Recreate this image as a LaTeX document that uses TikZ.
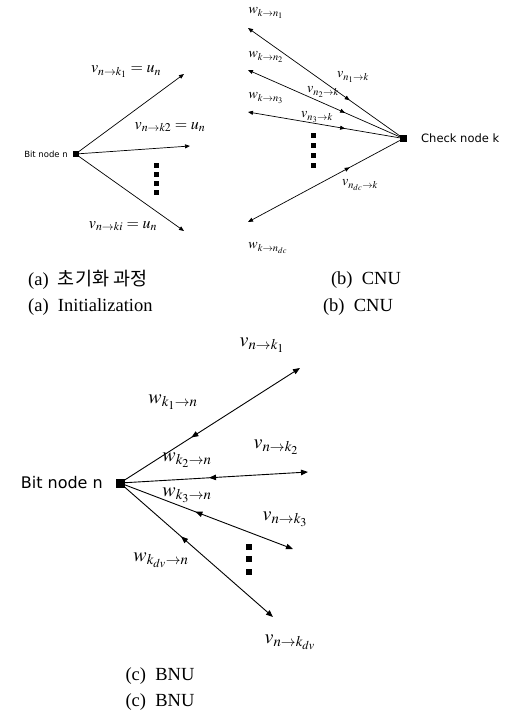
\documentclass[tikz,border=0pt]{standalone}
\usepackage{mathptmx}
\usepackage[no-math]{fontspec}
\setmainfont{Liberation Serif}
\newfontfamily\labsans{DejaVu Sans}
\newfontfamily\krfont{Noto Sans CJK KR}
\usetikzlibrary{arrows.meta,decorations.markings}
\tikzset{
  sq/.style={rectangle, fill=black, draw=none, inner sep=0pt, minimum size=#1},
  msgA/.style={line width=0.7pt, -{Triangle[length=5pt,width=4pt]}},
  msgB/.style={line width=0.7pt, {Triangle[length=5pt,width=4pt]}-},
  msgC/.style={line width=0.9pt, -{Triangle[length=7pt,width=5.5pt]}},
  midB/.style={postaction={decorate}, decoration={markings,
      mark=at position #1 with {\arrow{Triangle[length=5pt,width=4pt]}}}},
  midC/.style={postaction={decorate}, decoration={markings,
      mark=at position #1 with {\arrowreversed{Triangle[length=7pt,width=5.5pt]}}}},
  mathA/.style={inner sep=0pt, font=\fontsize{16}{16}\selectfont},
  mathB/.style={inner sep=0pt, font=\fontsize{14}{14}\selectfont},
  mathC/.style={inner sep=0pt, font=\fontsize{20}{20}\selectfont},
  capt/.style={inner sep=0pt, font=\fontsize{18.5}{18.5}\selectfont},
  dotsq/.style={fill=black}
}
\begin{document}
\begin{tikzpicture}[x=1pt,y=-1pt]
\useasboundingbox (0,0) rectangle (512,720);

% ---------- (a) Initialization ----------
\node[sq=6pt] (bna) at (75.5,154) {};
\node[inner sep=0pt, anchor=east, font=\labsans\fontsize{8.5}{8.5}\selectfont] (bnalab) at (68,154) {Bit node n};
\coordinate (a1) at (184,74);
\coordinate (a2) at (190,146);
\coordinate (a3) at (184,231);
\draw[msgA] (bna) -- (a1);
\draw[msgA] (bna) -- (a2);
\draw[msgA] (bna) -- (a3);
\foreach \yy in {163,172,181,190} \fill[dotsq] (154,\yy) rectangle ++(4.5,4.5);
\node[mathA] (la1) at (126,72) {$v_{n\to k_1} = u_n$};
\node[mathA] (la2) at (170,127) {$v_{n\to k2} = u_n$};
\node[mathA] (la3) at (123,226) {$v_{n\to ki} = u_n$};

% ---------- (b) CNU ----------
\node[sq=7pt] (ck) at (403.5,138.5) {};
\node[inner sep=0pt, anchor=west, font=\labsans\fontsize{11.5}{11.5}\selectfont] (cklab) at (421,138.5) {Check node k};
\coordinate (b1) at (248,28);
\coordinate (b2) at (248,70);
\coordinate (b3) at (248,112);
\coordinate (b4) at (248,222);
\draw[msgB, midB=0.67] (b1) -- (ck);
\draw[msgB, midB=0.64] (b2) -- (ck);
\draw[msgB, midB=0.64] (b3) -- (ck);
\draw[msgB, midB=0.67] (b4) -- (ck);
\foreach \yy in {133,143,153,163} \fill[dotsq] (310.5,\yy) rectangle ++(5,5);
\node[mathB] (lw1) at (266,13) {$w_{k\to n_1}$};
\node[mathB] (lw2) at (266,57) {$w_{k\to n_2}$};
\node[mathB] (lw3) at (266,98) {$w_{k\to n_3}$};
\node[mathB] (lw4) at (268,248) {$w_{k\to n_{dc}}$};
\node[mathB] (lv1) at (353,77) {$v_{n_1\to k}$};
\node[mathB] (lv2) at (323,92) {$v_{n_2\to k}$};
\node[mathB] (lv3) at (317,117) {$v_{n_3\to k}$};
\node[mathB] (lv4) at (360,185) {$v_{n_{dc}\to k}$};

% ---------- (c) BNU ----------
\node[sq=9pt] (bnc) at (120,483) {};
\node[inner sep=0pt, anchor=east, font=\labsans\fontsize{16}{16}\selectfont] (bnclab) at (103,483) {Bit node n};
\coordinate (c1) at (300,368);
\coordinate (c2) at (308,472);
\coordinate (c3) at (293,549);
\coordinate (c4) at (273,617);
\draw[msgC, midC=0.38] (bnc) -- (c1);
\draw[msgC, midC=0.46] (bnc) -- (c2);
\draw[msgC, midC=0.42] (bnc) -- (c3);
\draw[msgC, midC=0.38] (bnc) -- (c4);
\foreach \yy in {544,556,569} \fill[dotsq] (246,\yy) rectangle ++(6,6);
\node[mathC] (lc1) at (262,345) {$v_{n\to k_1}$};
\node[mathC] (lc2) at (173,402) {$w_{k_1\to n}$};
\node[mathC] (lc3) at (276,447) {$v_{n\to k_2}$};
\node[mathC] (lc4) at (187,460) {$w_{k_2\to n}$};
\node[mathC] (lc5) at (187,495) {$w_{k_3\to n}$};
\node[mathC] (lc6) at (285,519) {$v_{n\to k_3}$};
\node[mathC] (lc7) at (161,560) {$w_{k_{dv}\to n}$};
\node[mathC] (lc8) at (290,642) {$v_{n\to k_{dv}}$};

% ---------- captions ----------
\node[capt, anchor=west] (capa1) at (28,280) {(a)\ \ {\krfont 초기화 과정}};
\node[capt, anchor=west] (capa2) at (28,307) {(a)\ \ Initialization};
\node[capt] (capb1) at (366,280) {(b)\ \ CNU};
\node[capt] (capb2) at (358,307) {(b)\ \ CNU};
\node[capt] (capc1) at (160,676) {(c)\ \ BNU};
\node[capt] (capc2) at (160,702) {(c)\ \ BNU};
\end{tikzpicture}
\end{document}
